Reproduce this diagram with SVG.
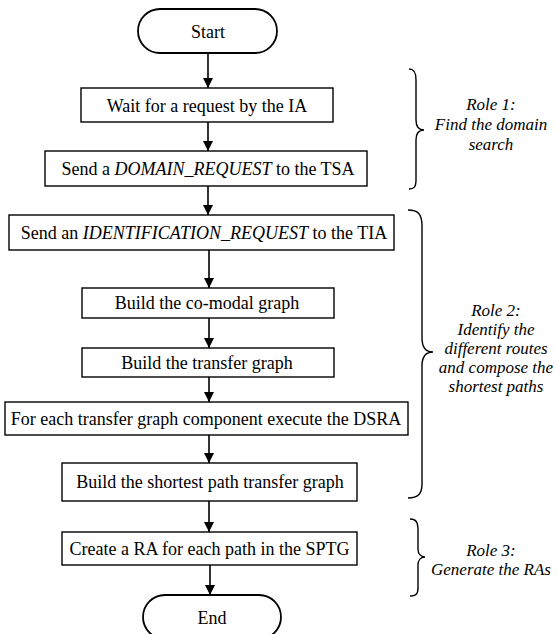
<svg xmlns="http://www.w3.org/2000/svg" width="557" height="634" viewBox="0 0 557 634">
<defs>
<marker id="ah" viewBox="0 0 10 10" refX="10" refY="5" markerWidth="10" markerHeight="10" markerUnits="userSpaceOnUse" orient="auto">
<path d="M0,0 L10,5 L0,10 Z" fill="#000"/>
</marker>
<style>
.box{fill:#fff;stroke:#000;stroke-width:1.4}
.term{fill:#fff;stroke:#000;stroke-width:1.8}
.t{font-family:"Liberation Serif","Times New Roman",serif;font-size:18px;fill:#000;text-anchor:middle}
.i{font-style:italic}
.lbl{font-family:"Liberation Serif","Times New Roman",serif;font-size:17px;font-style:italic;fill:#000;text-anchor:middle}
.arr{stroke:#000;stroke-width:1.6;fill:none;marker-end:url(#ah)}
.brace{stroke:#000;stroke-width:1.4;fill:none}
</style>
</defs>
<rect width="557" height="634" fill="#fff"/>
<g id="connectors">
<line class="arr" x1="208" y1="53" x2="208" y2="88"/>
<line class="arr" x1="208" y1="122" x2="208" y2="151"/>
<line class="arr" x1="208" y1="186" x2="208" y2="215"/>
<line class="arr" x1="209" y1="250" x2="209" y2="288"/>
<line class="arr" x1="209" y1="318" x2="209" y2="348"/>
<line class="arr" x1="209" y1="377" x2="209" y2="402"/>
<line class="arr" x1="209" y1="435" x2="209" y2="463"/>
<line class="arr" x1="209" y1="501" x2="209" y2="532"/>
<line class="arr" x1="210" y1="565" x2="210" y2="595"/>
</g>
<g id="start">
<rect class="term" x="138" y="9" width="139" height="44" rx="22"/>
<text class="t" x="208" y="37.5">Start</text>
</g>
<g id="wait">
<rect class="box" x="81" y="88" width="252" height="34"/>
<text class="t" x="207" y="112">Wait for a request by the IA</text>
</g>
<g id="domain">
<rect class="box" x="45" y="151" width="322" height="35"/>
<text class="t" x="208" y="174.5">Send a <tspan class="i">DOMAIN_REQUEST</tspan> to the TSA</text>
</g>
<g id="ident">
<rect class="box" x="9" y="215" width="385" height="35"/>
<text class="t" x="204" y="238.5">Send an <tspan class="i">IDENTIFICATION_REQUEST</tspan> to the TIA</text>
</g>
<g id="comodal">
<rect class="box" x="82" y="288" width="252" height="30"/>
<text class="t" x="207" y="309">Build the co-modal graph</text>
</g>
<g id="transfer">
<rect class="box" x="82" y="348" width="252" height="29"/>
<text class="t" x="207" y="368.5">Build the transfer graph</text>
</g>
<g id="dsra">
<rect class="box" x="5" y="402" width="403" height="33"/>
<text class="t" x="206" y="424.5">For each transfer graph component execute the DSRA</text>
</g>
<g id="sptg">
<rect class="box" x="62" y="463" width="295" height="38"/>
<text class="t" x="210" y="488">Build the shortest path transfer graph</text>
</g>
<g id="create">
<rect class="box" x="62" y="532" width="295" height="33"/>
<text class="t" x="209.5" y="554.5">Create a RA for each path in the SPTG</text>
</g>
<g id="end">
<rect class="term" x="143" y="595" width="138" height="44" rx="22"/>
<text class="t" x="212" y="624">End</text>
</g>
<g id="role1">
<path class="brace" d="M409,69 C414,69 416,72 416,80 L416,120 C416,127 419,130 424,130 C419,130 416,133 416,140 L416,180 C416,187 414,189 409,189"/>
<text class="lbl" x="491" y="110">Role 1:</text>
<text class="lbl" x="491" y="130">Find the domain</text>
<text class="lbl" x="491" y="150">search</text>
</g>
<g id="role2">
<path class="brace" d="M408,210 C418,210 422,214 422,226 L422,338 C422,347 426,352 433,352 C426,352 422,357 422,366 L422,484 C422,494 418,498 408,498"/>
<text class="lbl" x="496" y="316">Role 2:</text>
<text class="lbl" x="496" y="335">Identify the</text>
<text class="lbl" x="496" y="354">different routes</text>
<text class="lbl" x="496" y="373">and compose the</text>
<text class="lbl" x="496" y="392">shortest paths</text>
</g>
<g id="role3">
<path class="brace" d="M410,519 C416,519 418,522 418,530 L418,549 C418,554 421,557 425,557 C421,557 418,560 418,565 L418,588 C418,594 416,596 410,596"/>
<text class="lbl" x="491" y="556">Role 3:</text>
<text class="lbl" x="491" y="575">Generate the RAs</text>
</g>
</svg>
